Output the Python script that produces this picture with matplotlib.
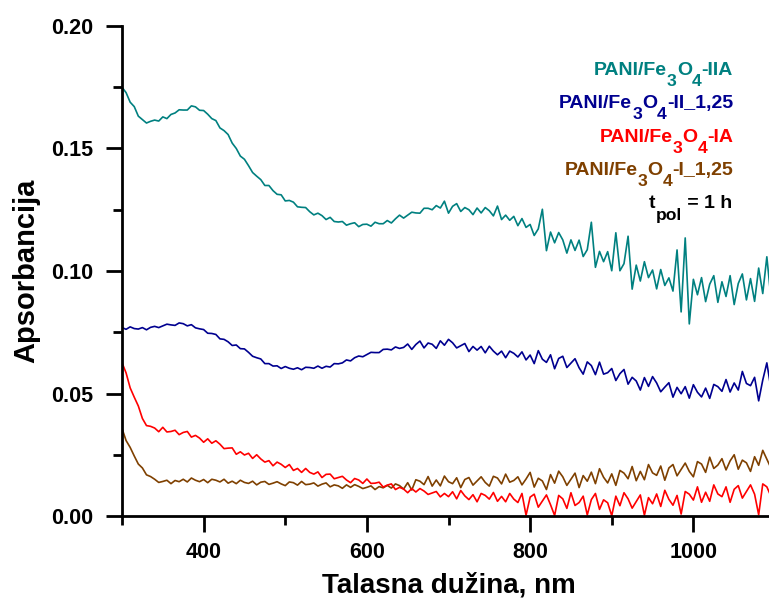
import numpy as np
import matplotlib
matplotlib.use("Agg")
import matplotlib.pyplot as plt
from matplotlib.ticker import MultipleLocator

plt.rcParams["font.family"] = ["Liberation Sans", "DejaVu Sans"]
plt.rcParams["font.weight"] = "bold"

# Wavelength grid, nm (5 nm step)
wavelength = np.arange(300, 1101, 5)

# Absorbance spectra
pani_iia = [
    0.1750, 0.1728, 0.1689, 0.1671, 0.1632, 0.1618, 0.1604, 0.1611, 0.1616, 0.1612,
    0.1629, 0.1622, 0.1639, 0.1645, 0.1658, 0.1657, 0.1657, 0.1674, 0.1670, 0.1656,
    0.1655, 0.1640, 0.1622, 0.1614, 0.1584, 0.1573, 0.1557, 0.1522, 0.1500, 0.1469,
    0.1456, 0.1430, 0.1402, 0.1387,
    0.1373, 0.1349, 0.1349, 0.1328, 0.1313, 0.1311, 0.1286, 0.1288, 0.1281, 0.1262,
    0.1260, 0.1259, 0.1242, 0.1229, 0.1236, 0.1226, 0.1210, 0.1219, 0.1202, 0.1200,
    0.1202, 0.1187, 0.1193, 0.1197, 0.1181, 0.1190,
    0.1191, 0.1183, 0.1199, 0.1193, 0.1193, 0.1206, 0.1196, 0.1213, 0.1228, 0.1216,
    0.1228, 0.1240, 0.1237, 0.1236, 0.1256, 0.1256, 0.1250, 0.1267, 0.1257, 0.1285,
    0.1236, 0.1264, 0.1275, 0.1243, 0.1259, 0.1250, 0.1230, 0.1257, 0.1237, 0.1259,
    0.1246, 0.1225, 0.1265, 0.1210, 0.1228, 0.1207, 0.1223, 0.1185, 0.1214, 0.1178,
    0.1190, 0.1145, 0.1172, 0.1252, 0.1083, 0.1159, 0.1115, 0.1157, 0.1127, 0.1073,
    0.1127, 0.1084, 0.1126, 0.1059, 0.1087, 0.1199, 0.1015, 0.1080, 0.1038, 0.1079,
    0.1001, 0.1156, 0.1001, 0.1030, 0.1142, 0.0926, 0.1024, 0.0959, 0.1038, 0.0973,
    0.1004, 0.0927, 0.1006, 0.0941, 0.0972, 0.0918, 0.1086, 0.0833, 0.1135, 0.0784,
    0.0966, 0.0903, 0.0973, 0.0875, 0.0946, 0.0981, 0.0872, 0.0956, 0.0896, 0.0981,
    0.0863, 0.0949, 0.0988, 0.0882, 0.0969, 0.0876, 0.1012, 0.0908, 0.1058, 0.0891,
    0.0979,
]

pani_ii_125 = [
    0.0769, 0.0762, 0.0772, 0.0765, 0.0763, 0.0769, 0.0760, 0.0770, 0.0774, 0.0769,
    0.0776, 0.0783, 0.0780, 0.0778, 0.0788, 0.0785, 0.0776, 0.0781, 0.0768, 0.0764,
    0.0761, 0.0746, 0.0745, 0.0741, 0.0723, 0.0721, 0.0711, 0.0696, 0.0698, 0.0683,
    0.0682, 0.0668, 0.0652, 0.0646, 0.0641, 0.0622, 0.0622, 0.0612, 0.0613, 0.0602,
    0.0610, 0.0603, 0.0599, 0.0605, 0.0597, 0.0607, 0.0606, 0.0603, 0.0612, 0.0603,
    0.0611, 0.0608, 0.0622, 0.0621, 0.0625, 0.0637, 0.0633, 0.0646, 0.0653, 0.0650,
    0.0659, 0.0668, 0.0667, 0.0667, 0.0680, 0.0681, 0.0678, 0.0690, 0.0684, 0.0688,
    0.0702, 0.0680, 0.0700, 0.0714, 0.0686, 0.0706, 0.0701, 0.0684, 0.0715, 0.0697,
    0.0721, 0.0707, 0.0686, 0.0695, 0.0704, 0.0671, 0.0692, 0.0677, 0.0692, 0.0666,
    0.0693, 0.0673, 0.0658, 0.0673, 0.0646, 0.0673, 0.0664, 0.0649, 0.0670, 0.0637,
    0.0657, 0.0622, 0.0675, 0.0640, 0.0627, 0.0658, 0.0601, 0.0643, 0.0652, 0.0606,
    0.0624, 0.0642, 0.0605, 0.0579, 0.0629, 0.0614, 0.0577, 0.0628, 0.0579, 0.0585,
    0.0602, 0.0553, 0.0581, 0.0598, 0.0538, 0.0566, 0.0551, 0.0514, 0.0565, 0.0529,
    0.0569, 0.0543, 0.0507, 0.0526, 0.0544, 0.0485, 0.0525, 0.0499, 0.0528, 0.0481,
    0.0536, 0.0505, 0.0486, 0.0522, 0.0480, 0.0537, 0.0528, 0.0509, 0.0557, 0.0506,
    0.0543, 0.0514, 0.0590, 0.0541, 0.0532, 0.0566, 0.0470, 0.0555, 0.0625, 0.0522,
    0.0544,
]

pani_ia = [
    0.0626, 0.0584, 0.0523, 0.0485, 0.0449, 0.0398, 0.0369, 0.0366, 0.0359, 0.0344,
    0.0362, 0.0343, 0.0345, 0.0350, 0.0332, 0.0341, 0.0345, 0.0322, 0.0329, 0.0318,
    0.0301, 0.0315, 0.0297, 0.0307, 0.0293, 0.0275, 0.0277, 0.0278, 0.0252, 0.0262,
    0.0249, 0.0256, 0.0235, 0.0250, 0.0233, 0.0220, 0.0226, 0.0205, 0.0220, 0.0211,
    0.0198, 0.0210, 0.0186, 0.0194, 0.0178, 0.0194, 0.0178, 0.0171, 0.0180, 0.0157,
    0.0170, 0.0171, 0.0152, 0.0157, 0.0162, 0.0147, 0.0136, 0.0153, 0.0147, 0.0133,
    0.0151, 0.0133, 0.0134, 0.0138, 0.0118, 0.0126, 0.0131, 0.0108, 0.0117, 0.0110,
    0.0095, 0.0112, 0.0098, 0.0112, 0.0102, 0.0088, 0.0094, 0.0100, 0.0078, 0.0092,
    0.0079, 0.0099, 0.0070, 0.0104, 0.0082, 0.0067, 0.0087, 0.0058, 0.0092, 0.0084,
    0.0069, 0.0096, 0.0060, 0.0080, 0.0058, 0.0092,
    0.0069, 0.0055, 0.0092, 0.0003, 0.0077, 0.0089, 0.0036, 0.0061, 0.0086, 0.0046,
    0.0002, 0.0084, 0.0070, 0.0031, 0.0095, 0.0043, 0.0055, 0.0081, 0.0004, 0.0067,
    0.0092, 0.0027, 0.0066, 0.0054, 0.0001, 0.0081, 0.0042, 0.0095, 0.0070, 0.0032,
    0.0059, 0.0086, 0.0003, 0.0075, 0.0050, 0.0090, 0.0039, 0.0105, 0.0068, 0.0044,
    0.0084, 0.0008, 0.0100, 0.0089, 0.0065, 0.0119, 0.0056, 0.0097, 0.0060, 0.0127,
    0.0090, 0.0079, 0.0119, 0.0056, 0.0109, 0.0124, 0.0073, 0.0100, 0.0127, 0.0089,
    0.0005, 0.0131, 0.0119, 0.0081, 0.0147,
]

pani_i_125 = [
    0.0357, 0.0308, 0.0280, 0.0245, 0.0212, 0.0196, 0.0168, 0.0161, 0.0150, 0.0137,
    0.0141, 0.0146, 0.0132, 0.0145, 0.0140, 0.0150, 0.0139, 0.0155, 0.0146, 0.0140,
    0.0149, 0.0136, 0.0150, 0.0146, 0.0139, 0.0150, 0.0134, 0.0142, 0.0132, 0.0146,
    0.0137, 0.0133, 0.0142, 0.0127, 0.0138, 0.0141, 0.0129, 0.0134, 0.0140, 0.0131,
    0.0124, 0.0139, 0.0136, 0.0126, 0.0141, 0.0128, 0.0130, 0.0135, 0.0122, 0.0130,
    0.0135, 0.0119, 0.0127, 0.0123, 0.0113, 0.0127, 0.0117, 0.0128, 0.0121, 0.0112,
    0.0117, 0.0123, 0.0108, 0.0120, 0.0115, 0.0125, 0.0114, 0.0131, 0.0124, 0.0110,
    0.0136, 0.0106, 0.0148, 0.0142, 0.0128, 0.0161, 0.0122, 0.0147, 0.0123, 0.0163,
    0.0140, 0.0132, 0.0156, 0.0116, 0.0149, 0.0157, 0.0126, 0.0143, 0.0160, 0.0137,
    0.0122, 0.0162, 0.0155, 0.0131, 0.0171, 0.0138, 0.0145, 0.0160, 0.0127, 0.0151,
    0.0178, 0.0118, 0.0154, 0.0143, 0.0108, 0.0169, 0.0134, 0.0183, 0.0160, 0.0125,
    0.0150, 0.0175, 0.0116, 0.0165, 0.0142, 0.0179, 0.0132, 0.0193, 0.0158, 0.0135,
    0.0172, 0.0125, 0.0186, 0.0175, 0.0152, 0.0202, 0.0144, 0.0182, 0.0148, 0.0210,
    0.0176, 0.0166, 0.0204, 0.0146, 0.0196, 0.0210, 0.0164, 0.0190, 0.0216, 0.0182,
    0.0160, 0.0222, 0.0212, 0.0178, 0.0240, 0.0194, 0.0208, 0.0234, 0.0188, 0.0225,
    0.0250, 0.0191, 0.0228, 0.0217, 0.0182, 0.0242, 0.0207, 0.0268, 0.0232, 0.0196,
    0.0221,
]

SUB = [("PANI/Fe", False), ("3", True), ("O", False), ("4", True)]
series = [
    (pani_iia, "#008080", SUB + [("-IIA", False)]),
    (pani_ii_125, "#000090", SUB + [("-II_1,25", False)]),
    (pani_i_125, "#7F4000", SUB + [("-I_1,25", False)]),
    (pani_ia, "#FF0000", SUB + [("-IA", False)]),
]
label_order = [0, 1, 3, 2]

W, H = 769, 601
fig = plt.figure(figsize=(W / 100, H / 100), dpi=100)
ax = fig.add_axes([122 / W, (H - 516) / H, (775 - 122) / W, (516 - 26) / H])

for vals, color, _ in series:
    ax.plot(wavelength, vals, color=color, lw=1.2)

ax.set_xlim(300, 1100)
ax.set_ylim(0.0, 0.20)
ax.xaxis.set_major_locator(MultipleLocator(200))
ax.xaxis.set_minor_locator(MultipleLocator(100))
ax.yaxis.set_major_locator(MultipleLocator(0.05))
ax.yaxis.set_minor_locator(MultipleLocator(0.025))
ax.xaxis.set_major_formatter(plt.FuncFormatter(lambda v, p: f"{v:.0f}"))
ax.yaxis.set_major_formatter(plt.FuncFormatter(lambda v, p: f"{v:.2f}"))

for side in ("top", "right"):
    ax.spines[side].set_visible(False)
for side in ("left", "bottom"):
    ax.spines[side].set_linewidth(2.0)

ax.tick_params(which="major", direction="out", length=11.5, width=2.0, labelsize=15.5)
ax.tick_params(which="minor", direction="out", length=6.5, width=2.0)
ax.tick_params(axis="x", which="major", pad=7)
ax.tick_params(axis="y", which="major", pad=9)
for lab in ax.get_xticklabels() + ax.get_yticklabels():
    lab.set_fontweight("bold")

ax.set_xlabel("Talasna dužina, nm", fontsize=20, fontweight="bold", labelpad=7)
ax.set_ylabel("Apsorbancija", fontsize=21, fontweight="bold", labelpad=8)


def rich_label(x_px, base_px, pieces, color, size=14, sub_scale=0.9, drop=7.0):
    """Right-aligned label built from pieces; subscript pieces are lowered."""
    last = None
    prev_sub = False
    for text, sub in reversed(pieces):
        fs = size * sub_scale if sub else size
        if last is None:
            y0 = 1 - base_px / H - (drop / 72 * 100 / H if sub else 0)
            last = fig.text(x_px / W, y0, text, ha="right", va="baseline",
                            color=color, fontsize=fs, fontweight="bold")
        else:
            dy = 0.0
            if sub and not prev_sub:
                dy = -drop
            elif prev_sub and not sub:
                dy = drop
            last = ax.annotate(text, xy=(0, 0), xycoords=last, xytext=(0, dy),
                               textcoords="offset points", ha="right", va="bottom",
                               color=color, fontsize=fs, fontweight="bold",
                               annotation_clip=False)
        prev_sub = sub


baselines = [75, 108, 142, 175]
for base, idx in zip(baselines, label_order):
    _, color, pieces = series[idx]
    rich_label(733, base, pieces, color)

rich_label(732, 208, [("t", False), ("pol", True), (" = 1 h", False)], "black", drop=8.0)

fig.savefig("out.png", dpi=100)
